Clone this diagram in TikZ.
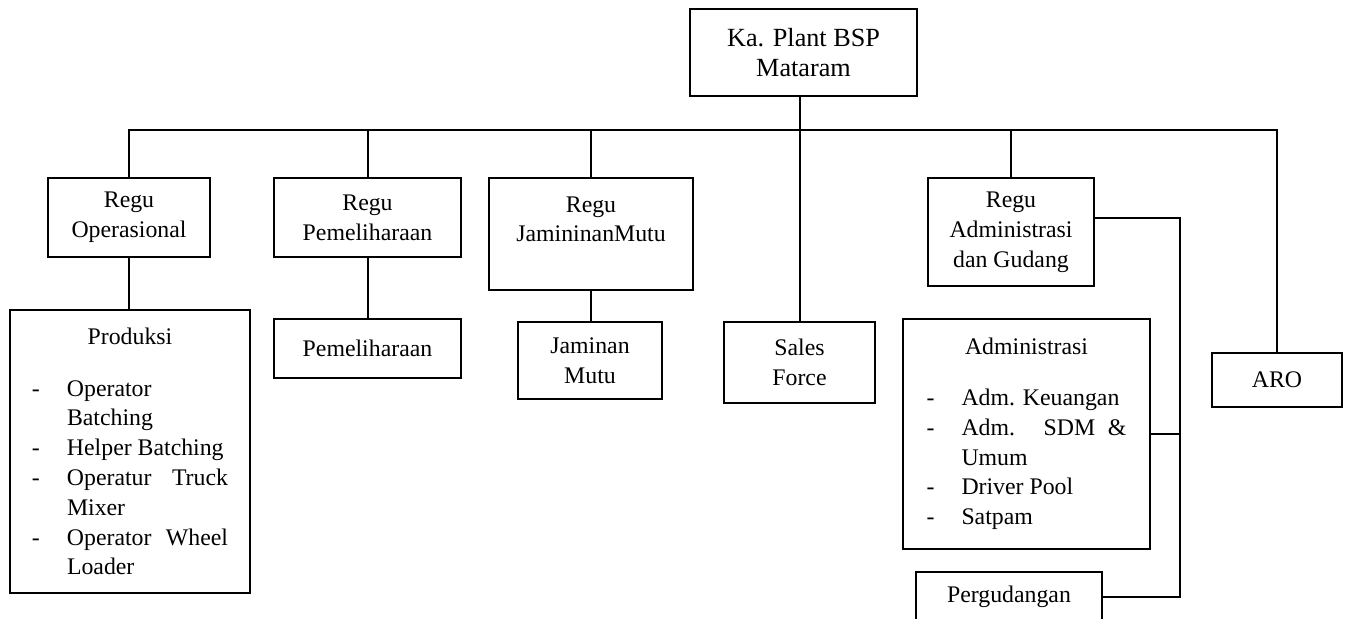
\documentclass[tikz,border=0pt]{standalone}
\usepackage{fontspec}
\setmainfont{Liberation Serif}
\hyphenpenalty=10000
\tolerance=9999
\newcommand{\dashitem}[1]{\par\noindent\hangindent=17.5pt\hangafter=1\makebox[17.5pt][l]{-}#1\par}
\tikzset{
	box/.style={draw, line width=1pt, align=center, inner sep=2pt, font=\fontsize{11.9}{14.9}\selectfont},
	listbox/.style={box, align=justify, inner ysep=2pt}
}
\begin{document}
\begin{tikzpicture}[x=0.5pt, y=-0.5pt, line width=1pt]
			\useasboundingbox (0,0) rectangle (1347,618);
			\clip (0,0) rectangle (1347,618);
			\node[box, font=\fontsize{13.1}{15}\selectfont, minimum width=113.5pt, minimum height=43.5pt] (plant) at (803.5,52.5) {Ka. Plant BSP\\Mataram};
			
			\node[box, minimum width=81pt, minimum height=39.5pt] (ops) at (129,217.5) {Regu\\Operasional};
			\node[box, minimum width=93.5pt, minimum height=39.5pt] (pem) at (367.5,217.5) {Regu\\Pemeliharaan};
			\node[box, minimum width=102pt, minimum height=56pt] (jam) at (591,234) {Regu\\JamininanMutu\\\mbox{}};
			\node[box, minimum width=83pt, minimum height=54pt] (adm) at (1011,232) {Regu\\Administrasi\\dan Gudang};
			
			\node[listbox, text width=98pt, inner xsep=11pt, minimum height=141.5pt] (prod) at (130,451.5)
			{{\centering Produksi\par}\vspace{11pt}
				\dashitem{Operator Batching}
				\dashitem{Helper Batching}
				\dashitem{Operatur Truck Mixer}
				\dashitem{Operator Wheel Loader}};
			\node[box, minimum width=93.5pt, minimum height=29.5pt] (pml) at (367.5,348.5) {Pemeliharaan};
			\node[box, minimum width=72pt, minimum height=38.5pt] (jm) at (590,360.5) {Jaminan\\Mutu};
			\node[box, minimum width=75.5pt, minimum height=40.5pt] (sales) at (799.5,362.5) {Sales\\Force};
			\node[listbox, text width=100pt, inner xsep=11.75pt, minimum height=115pt] (adms) at (1026.5,434)
			{{\centering Administrasi\par}\vspace{10.5pt}
				\dashitem{Adm. Keuangan}
				\dashitem{Adm. SDM \& Umum}
				\dashitem{Driver Pool}
				\dashitem{Satpam}};
			\node[box, minimum width=93pt, minimum height=25pt] (perg) at (1009,597) {Pergudangan};
			\node[box, minimum width=65pt, minimum height=27pt] (aro) at (1277,380) {ARO};
			
			\coordinate (bus) at (0,130);
			\coordinate (rail) at (1180,218);
			
			\draw (ops.north) -- (ops.north |- bus) -- (aro.north |- bus) -- (aro.north);
			\draw (plant.south -| sales.north) -- (sales.north);
			\path[draw]
			(pem.north) edge (pem.north |- bus)
			(jam.north) edge (jam.north |- bus)
			(adm.north) edge (adm.north |- bus)
			(ops.south) edge (ops.south |- prod.north)
			(pem.south) edge (pem.south |- pml.north)
			(jam.south) edge (jam.south |- jm.north)
			(adms.east) edge (adms.east -| rail);
			\draw (adm.east |- rail) -- (rail) |- (perg.east);
		\end{tikzpicture}
\end{document}
